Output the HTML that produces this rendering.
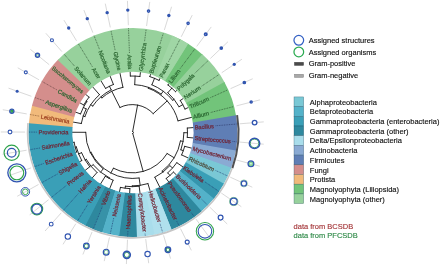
<!DOCTYPE html>
<html lang="en"><head><meta charset="utf-8"><title>Taxonomic coverage</title>
<style>
html,body{margin:0;padding:0;background:#fff}
body{width:440px;height:265px;overflow:hidden}
svg{display:block}
</style></head><body>
<svg width="440" height="265" viewBox="0 0 440 265">
<rect width="440" height="265" fill="#fff"/>
<path id="tree" fill="none" stroke="#141414" stroke-width="0.9" stroke-linejoin="round" stroke-linecap="round" d="M79.37 102.54L83.72 104.99M85.19 93.99L89.07 97.15M83.72 104.99A56 56 0 0 1 89.07 97.15M75.07 111.95L80.53 113.9M86.23 100.96L86.89 101.41M80.53 113.9A55.2 55.2 0 0 1 86.89 101.41M72.42 121.95L81.28 123.51M83.31 107.45L86.16 108.9M81.28 123.51A52 52 0 0 1 86.16 108.9M83.18 116.02L84.89 116.59M92.38 86.55L99.49 94.68M84.89 116.59A50.2 50.2 0 0 1 99.49 94.68M100.73 80.43L105.57 88.37M109.98 75.81L113.42 84.45M105.57 88.37A51.7 51.7 0 0 1 113.42 84.45M90.72 104.66L92.8 106.05M109.41 86.24L111.2 89.82M92.8 106.05A47.7 47.7 0 0 1 111.2 89.82M100.94 96.73L101.93 97.86M119.89 72.82L122.95 87.3M101.93 97.86A46.2 46.2 0 0 1 122.95 87.3M130.16 71.55L130.33 76.04M140.49 72.03L139.9 76.49M130.33 76.04A56.5 56.5 0 0 1 139.9 76.49M150.6 74.25L149.85 76.63M160.18 78.14L159.05 80.37M149.85 76.63A58.5 58.5 0 0 1 159.05 80.37M168.97 83.6L167.95 84.96M176.71 90.47L175.48 91.64M167.95 84.96A59.3 59.3 0 0 1 175.48 91.64M183.18 98.54L180.27 100.49M188.19 107.6L184.99 109.03M180.27 100.49A57.5 57.5 0 0 1 184.99 109.03M171.86 88.14L167.81 92.71M182.81 104.66L179.05 106.74M167.81 92.71A53.2 53.2 0 0 1 179.05 106.74M154.53 78.31L151.89 84.79M174.03 99.25L172.7 100.31M151.89 84.79A51.5 51.5 0 0 1 172.7 100.31M135.12 76.06L134.73 84.65M163.29 91.22L161.14 94.1M134.73 84.65A47.9 47.9 0 0 1 161.14 94.1M148.64 87.4L148.34 88.25M191.59 117.37L178.03 120.84M148.34 88.25A47 47 0 0 1 178.03 120.84M111.76 91.22L119.93 107.48M167.24 100.85L153.2 113.64M119.93 107.48A28 28 0 0 1 153.2 113.64M193.3 127.57L187.32 128.06M193.26 137.92L187.28 137.38M187.32 128.06A55 55 0 0 1 187.28 137.38M191.47 148.11L184.7 146.32M187.98 157.85L181.62 154.94M184.7 146.32A54 54 0 0 1 181.62 154.94M187.5 132.72L183.9 132.71M183.34 150.69L180.89 149.82M183.9 132.71A51.4 51.4 0 0 1 180.89 149.82M176.37 174.88L173.49 172.11M168.58 181.69L166.21 178.46M173.49 172.11A57 57 0 0 1 166.21 178.46M182.9 166.86L176.79 162.69M169.99 175.44L167.75 172.88M176.79 162.69A53.6 53.6 0 0 1 167.75 172.88M172.59 168.07L169.9 165.68M159.74 187.08L154.83 177.24M169.9 165.68A50 50 0 0 1 154.83 177.24M183.13 141.39L180.47 140.92M162.92 172.18L162.13 171.15M180.47 140.92A48.7 48.7 0 0 1 162.13 171.15M129.67 193.43L129.89 188.64M119.41 192.08L120.44 187.39M129.89 188.64A56.2 56.2 0 0 1 120.44 187.39M140.01 193.04L139.17 186.29M125.14 188.22L125.4 186.23M139.17 186.29A54.2 54.2 0 0 1 125.4 186.23M150.13 190.9L147.93 183.62M132.28 186.7L132.29 185.9M147.93 183.62A53.4 53.4 0 0 1 132.29 185.9M109.53 189.01L113.11 180.21M100.31 184.31L105.32 176.25M113.11 180.21A51.5 51.5 0 0 1 105.32 176.25M74.9 152.59L76.6 152M72.34 142.57L74.11 142.27M76.6 152A59.2 59.2 0 0 1 74.11 142.27M79.13 162.04L81.75 160.58M75.15 147.19L76.31 146.89M81.75 160.58A58 58 0 0 1 76.31 146.89M84.89 170.63L89.73 166.76M78.6 153.91L81.57 152.73M89.73 166.76A54.8 54.8 0 0 1 81.57 152.73M92.02 178.13L96.99 172.52M85.13 160.05L86.25 159.39M96.99 172.52A53.5 53.5 0 0 1 86.25 159.39M109.13 178.39L109.4 177.86M91.1 166.38L93.11 164.74M109.4 177.86A50.9 50.9 0 0 1 93.11 164.74M100.57 172.14L103.15 168.95M71.5 132.26L85.7 132.31M103.15 168.95A46.8 46.8 0 0 1 85.7 132.31M140.19 185.34L139.13 178.02M90.25 152.62L90.97 152.28M139.13 178.02A46 46 0 0 1 90.97 152.28M174.14 157.76L167.13 153.51M110.81 173.07L113.41 168.22M167.13 153.51A40.5 40.5 0 0 1 113.41 168.22M137.6 104.97L132.68 131.52M143.2 171.56L132.76 133.46M132.68 131.52A1 1 0 0 1 132.76 133.46"/>
<g id="ring" stroke="none" transform="translate(0.45 0)">
<path d="M28.34 124.13A104.5 104.5 0 0 1 31.72 104.88L73.96 116.46A60.7 60.7 0 0 0 72 127.64Z" fill="#F1BA7B"/>
<path d="M31.48 105.76A104.5 104.5 0 0 1 57.98 59.24L89.22 89.94A60.7 60.7 0 0 0 73.82 116.97Z" fill="#D48E8C"/>
<path d="M57.35 59.89A104.5 104.5 0 0 1 188.42 44.22L164.98 81.22A60.7 60.7 0 0 0 88.85 90.32Z" fill="#97D19C"/>
<path d="M187.65 43.74A104.5 104.5 0 0 1 202.53 54.94L173.18 87.45A60.7 60.7 0 0 0 164.53 80.94Z" fill="#72C47A"/>
<path d="M201.85 54.33A104.5 104.5 0 0 1 224.37 82.7L185.86 103.57A60.7 60.7 0 0 0 172.79 87.1Z" fill="#97D19C"/>
<path d="M223.93 81.9A104.5 104.5 0 0 1 235.71 116.15L192.45 123A60.7 60.7 0 0 0 185.61 103.11Z" fill="#72C47A"/>
<path d="M235.57 115.25A104.5 104.5 0 0 1 235.26 151.47L192.19 143.52A60.7 60.7 0 0 0 192.37 122.48Z" fill="#5F7EB5"/>
<path d="M235.43 150.57A104.5 104.5 0 0 1 230.58 168.57L189.47 153.45A60.7 60.7 0 0 0 192.29 143Z" fill="#8AAAD3"/>
<path d="M230.89 167.71A104.5 104.5 0 0 1 223.07 184.62L185.11 162.78A60.7 60.7 0 0 0 189.65 152.95Z" fill="#7AC8D5"/>
<path d="M223.52 183.83A104.5 104.5 0 0 1 212.96 199.18L179.24 171.23A60.7 60.7 0 0 0 185.37 162.32Z" fill="#3A9FB7"/>
<path d="M213.54 198.47A104.5 104.5 0 0 1 200.54 211.82L172.02 178.57A60.7 60.7 0 0 0 179.57 170.82Z" fill="#54B2C9"/>
<path d="M201.23 211.22A104.5 104.5 0 0 1 170.22 229.95L154.41 189.11A60.7 60.7 0 0 0 172.42 178.23Z" fill="#2E889E"/>
<path d="M171.07 229.62A104.5 104.5 0 0 1 135.6 236.95L134.3 193.17A60.7 60.7 0 0 0 154.91 188.91Z" fill="#A9DDEB"/>
<path d="M136.52 236.92A104.5 104.5 0 0 1 117.91 235.98L124.02 192.61A60.7 60.7 0 0 0 134.83 193.16Z" fill="#2E889E"/>
<path d="M118.81 236.1A104.5 104.5 0 0 1 100.63 232.02L113.99 190.31A60.7 60.7 0 0 0 124.55 192.68Z" fill="#54B2C9"/>
<path d="M101.5 232.3A104.5 104.5 0 0 1 84.27 225.2L104.48 186.35A60.7 60.7 0 0 0 114.49 190.47Z" fill="#2E889E"/>
<path d="M85.08 225.62A104.5 104.5 0 0 1 28.41 123.22L72.04 127.11A60.7 60.7 0 0 0 104.96 186.59Z" fill="#3A9FB7"/>
<path d="M171.85 35.69A104.5 104.5 0 0 1 187.65 43.74L164.53 80.94A60.7 60.7 0 0 0 155.36 76.27Z" fill="#A0D6A5"/>
<path d="M171.07 229.62A104.5 104.5 0 0 1 154.11 234.74L145.05 191.89A60.7 60.7 0 0 0 154.91 188.91Z" fill="#B0E0ED"/>
<path d="M101.5 232.3A104.5 104.5 0 0 1 92.33 228.97L109.17 188.54A60.7 60.7 0 0 0 114.49 190.47Z" fill="#3792A8"/>
<path d="M218.84 191.36A104.5 104.5 0 0 1 213.54 198.47L179.57 170.82A60.7 60.7 0 0 0 182.65 166.69Z" fill="#3595AD"/>
</g>
<g id="gram" transform="translate(0.45 0)">
<path d="M237.64 114.91A106.6 106.6 0 0 1 232.87 168.42L230.98 167.74A104.6 104.6 0 0 0 235.67 115.24Z" fill="#505052"/>
<path d="M232.49 168.28A106.2 106.2 0 0 1 26.72 123.07L28.31 123.21A104.6 104.6 0 0 0 230.98 167.74Z" fill="#c6c6c6"/>
</g>
<g id="ticks" stroke="#c9c9c9" stroke-width="0.7" fill="none">
<path d="M25.1 132.07L0.8 131.97"/>
<path d="M26.72 113.92L2.78 109.72"/>
<path d="M31.38 96.31L8.5 88.13"/>
<path d="M38.95 79.75L17.78 67.81"/>
<path d="M49.21 64.69L30.37 49.35"/>
<path d="M61.87 51.59L45.89 33.29"/>
<path d="M76.56 40.82L63.9 20.08"/>
<path d="M92.86 32.68L83.89 10.1"/>
<path d="M110.29 27.42L105.27 3.65"/>
<path d="M128.37 25.18L127.44 0.9"/>
<path d="M146.57 26.03L149.75 1.93"/>
<path d="M164.36 29.93L171.57 6.73"/>
<path d="M181.24 36.79L192.26 15.14"/>
<path d="M196.71 46.41L211.24 26.93"/>
<path d="M210.34 58.5L227.95 41.75"/>
<path d="M221.72 72.72L241.91 59.19"/>
<path d="M230.54 88.66L252.73 78.73"/>
<path d="M236.54 105.85L260.08 99.83"/>
<path d="M239.55 123.82L263.77 121.86"/>
<path d="M239.48 142.04L263.68 144.2"/>
<path d="M236.33 159.98L259.82 166.2"/>
<path d="M230.19 177.13L252.29 187.23"/>
<path d="M221.24 193L241.32 206.69"/>
<path d="M209.74 207.12L227.22 224.01"/>
<path d="M196.02 219.1L210.39 238.7"/>
<path d="M180.47 228.59L191.32 250.34"/>
<path d="M163.54 235.32L170.56 258.58"/>
<path d="M145.71 239.08L148.7 263.2"/>
<path d="M127.51 239.78L126.38 264.06"/>
<path d="M109.45 237.4L104.24 261.13"/>
<path d="M92.06 231.99L82.9 254.5"/>
<path d="M75.82 223.73L63 244.37"/>
<path d="M61.22 212.84L45.09 231.01"/>
<path d="M48.67 199.63L29.7 214.82"/>
<path d="M38.53 184.5L17.27 196.27"/>
<path d="M31.09 167.87L8.15 175.88"/>
<path d="M26.57 150.23L2.61 154.24"/>
</g>
<g id="bubbles" fill="none">
<circle cx="10" cy="132.01" r="1.9" fill="#fff"/>
<circle cx="10" cy="132.01" r="1.9" stroke="#3054b0" stroke-width="1.1"/>
<circle cx="11.85" cy="111.31" r="2.1" fill="#7fd08a"/>
<circle cx="11.85" cy="111.31" r="0.9" stroke="#2ea34a" stroke-width="1.15"/>
<circle cx="11.85" cy="111.31" r="2.1" stroke="#3054b0" stroke-width="1.22"/>
<circle cx="17.16" cy="91.23" r="1.5" fill="#3054b0"/>
<circle cx="25.8" cy="72.33" r="1.5" fill="#fff"/>
<circle cx="25.8" cy="72.33" r="1.5" stroke="#3054b0" stroke-width="1.1"/>
<circle cx="37.5" cy="55.16" r="2" fill="#fff"/>
<circle cx="37.5" cy="55.16" r="1" stroke="#2ea34a" stroke-width="0.57"/>
<circle cx="37.5" cy="55.16" r="2" stroke="#3054b0" stroke-width="1.46"/>
<circle cx="51.94" cy="40.22" r="1.5" fill="#fff"/>
<circle cx="51.94" cy="40.22" r="1.5" stroke="#3054b0" stroke-width="1.1"/>
<circle cx="68.69" cy="27.93" r="1.7" fill="#3054b0"/>
<circle cx="87.28" cy="18.65" r="1.7" fill="#3054b0"/>
<circle cx="107.17" cy="12.65" r="1.7" fill="#3054b0"/>
<circle cx="127.79" cy="10.09" r="1.7" fill="#3054b0"/>
<circle cx="148.55" cy="11.06" r="1.1" fill="#fff"/>
<circle cx="148.55" cy="11.06" r="1.1" stroke="#3054b0" stroke-width="1.46"/>
<circle cx="168.84" cy="15.51" r="1.7" fill="#3054b0"/>
<circle cx="188.09" cy="23.34" r="1.1" fill="#fff"/>
<circle cx="188.09" cy="23.34" r="1.1" stroke="#3054b0" stroke-width="1.46"/>
<circle cx="205.74" cy="34.3" r="1.2" fill="#fff"/>
<circle cx="205.74" cy="34.3" r="1.2" stroke="#3054b0" stroke-width="1.71"/>
<circle cx="221.28" cy="48.09" r="1" fill="#7fd08a"/>
<circle cx="221.28" cy="48.09" r="0.3" stroke="#2ea34a" stroke-width="0.57"/>
<circle cx="221.28" cy="48.09" r="1" stroke="#3054b0" stroke-width="1.71"/>
<circle cx="234.27" cy="64.31" r="1.6" fill="#3054b0"/>
<circle cx="244.33" cy="82.49" r="1" fill="#7fd08a"/>
<circle cx="244.33" cy="82.49" r="0.3" stroke="#2ea34a" stroke-width="0.57"/>
<circle cx="244.33" cy="82.49" r="1" stroke="#3054b0" stroke-width="1.71"/>
<circle cx="251.17" cy="102.11" r="1" fill="#fff"/>
<circle cx="251.17" cy="102.11" r="1" stroke="#3054b0" stroke-width="1.52"/>
<circle cx="254.6" cy="122.6" r="2.3" fill="#fff"/>
<circle cx="254.6" cy="122.6" r="2.3" stroke="#3054b0" stroke-width="1.34"/>
<circle cx="254.52" cy="143.38" r="4.3" stroke="#2ea34a" stroke-width="0.92"/>
<circle cx="254.52" cy="143.38" r="5.2" stroke="#3054b0" stroke-width="1.46"/>
<circle cx="250.92" cy="163.84" r="2.9" fill="#86d592"/>
<circle cx="250.92" cy="163.84" r="0.75" fill="#fff"/>
<circle cx="250.92" cy="163.84" r="2.9" stroke="#3054b0" stroke-width="1.22"/>
<circle cx="243.92" cy="183.41" r="2.6" fill="#fff"/>
<circle cx="243.92" cy="183.41" r="3.5" stroke="#2ea34a" stroke-width="0.46"/>
<circle cx="243.92" cy="183.41" r="2.6" stroke="#3054b0" stroke-width="1.22"/>
<circle cx="233.72" cy="201.5" r="4.1" stroke="#2ea34a" stroke-width="0.57"/>
<circle cx="233.72" cy="201.5" r="3.4" stroke="#3054b0" stroke-width="1.22"/>
<circle cx="220.6" cy="217.62" r="2.4" fill="#fff"/>
<circle cx="220.6" cy="217.62" r="2.4" stroke="#3054b0" stroke-width="1.22"/>
<circle cx="204.95" cy="231.28" r="8.7" stroke="#2ea34a" stroke-width="1.03"/>
<circle cx="204.95" cy="231.28" r="6.8" stroke="#3054b0" stroke-width="1.1"/>
<circle cx="187.21" cy="242.1" r="2" fill="#fff"/>
<circle cx="187.21" cy="242.1" r="2" stroke="#3054b0" stroke-width="1.1"/>
<circle cx="167.9" cy="249.77" r="2.7" fill="#fff"/>
<circle cx="167.9" cy="249.77" r="1.7" stroke="#2ea34a" stroke-width="1.03"/>
<circle cx="167.9" cy="249.77" r="2.7" stroke="#3054b0" stroke-width="1.46"/>
<circle cx="147.57" cy="254.07" r="2.7" fill="#fff"/>
<circle cx="147.57" cy="254.07" r="2.7" stroke="#3054b0" stroke-width="1.1"/>
<circle cx="126.81" cy="254.87" r="3.5" fill="#fff"/>
<circle cx="126.81" cy="254.87" r="2.5" stroke="#2ea34a" stroke-width="0.92"/>
<circle cx="126.81" cy="254.87" r="3.5" stroke="#3054b0" stroke-width="1.59"/>
<circle cx="106.21" cy="252.15" r="2.9" fill="#fff"/>
<circle cx="106.21" cy="252.15" r="2" stroke="#2ea34a" stroke-width="0.57"/>
<circle cx="106.21" cy="252.15" r="2.9" stroke="#3054b0" stroke-width="1.22"/>
<circle cx="86.37" cy="245.98" r="2.8" fill="#fff"/>
<circle cx="86.37" cy="245.98" r="2" stroke="#2ea34a" stroke-width="0.8"/>
<circle cx="86.37" cy="245.98" r="2.8" stroke="#3054b0" stroke-width="1.22"/>
<circle cx="67.85" cy="236.55" r="2.7" fill="#fff"/>
<circle cx="67.85" cy="236.55" r="2.7" stroke="#3054b0" stroke-width="1.1"/>
<circle cx="51.2" cy="224.13" r="1.9" fill="#fff"/>
<circle cx="51.2" cy="224.13" r="1.9" stroke="#3054b0" stroke-width="1.1"/>
<circle cx="36.88" cy="209.07" r="5.8" stroke="#2ea34a" stroke-width="1.15"/>
<circle cx="36.88" cy="209.07" r="5" stroke="#3054b0" stroke-width="1.22"/>
<circle cx="25.32" cy="191.81" r="2.8" stroke="#2ea34a" stroke-width="0.92"/>
<circle cx="25.32" cy="191.81" r="4.3" stroke="#3054b0" stroke-width="0.98"/>
<circle cx="16.83" cy="172.85" r="6.9" stroke="#2ea34a" stroke-width="1.15"/>
<circle cx="16.83" cy="172.85" r="9" stroke="#3054b0" stroke-width="1.34"/>
<circle cx="11.68" cy="152.72" r="7.6" stroke="#2ea34a" stroke-width="1.15"/>
<circle cx="11.68" cy="152.72" r="4.3" stroke="#3054b0" stroke-width="1.22"/>
</g>
<g id="labels" font-family="'Liberation Sans', sans-serif" font-size="5.85" stroke-width="0.2">
<text transform="translate(68.5 132.24) rotate(0.23)" text-anchor="end" dy="2.05" fill="#702030" stroke="#702030" textLength="29.93" lengthAdjust="spacingAndGlyphs">Providencia</text>
<path d="M36.77 132.12L28.3 132.08" stroke="#1d3a70" stroke-width="0.7" stroke-dasharray="0.9 0.8" fill="none"/>
<text transform="translate(69.44 121.43) rotate(9.96)" text-anchor="end" dy="2.05" fill="#9a3a1c" stroke="#9a3a1c" textLength="28.94" lengthAdjust="spacingAndGlyphs">Leishmania</text>
<path d="M39.15 116.11L29.87 114.48" stroke="#7a4a2a" stroke-width="0.7" stroke-dasharray="0.9 0.8" fill="none"/>
<text transform="translate(72.21 110.93) rotate(19.69)" text-anchor="end" dy="2.05" fill="#2a6530" stroke="#2a6530" textLength="28.16" lengthAdjust="spacingAndGlyphs">Aspergillus</text>
<path d="M44 100.83L34.39 97.39" stroke="#5a3a3a" stroke-width="0.7" stroke-dasharray="0.9 0.8" fill="none"/>
<text transform="translate(76.75 101.06) rotate(29.42)" text-anchor="end" dy="2.05" fill="#2a6530" stroke="#2a6530" textLength="21.11" lengthAdjust="spacingAndGlyphs">Candida</text>
<path d="M56.79 89.81L41.74 81.32" stroke="#5a3a3a" stroke-width="0.7" stroke-dasharray="0.9 0.8" fill="none"/>
<text transform="translate(82.9 92.12) rotate(39.15)" text-anchor="end" dy="2.05" fill="#2a6530" stroke="#2a6530" textLength="39.25" lengthAdjust="spacingAndGlyphs">Saccharomyces</text>
<text transform="translate(90.49 84.38) rotate(48.88)" text-anchor="end" dy="2.05" fill="#2a6530" stroke="#2a6530" textLength="22.57" lengthAdjust="spacingAndGlyphs">Solanum</text>
<path d="M74.46 66.02L63.97 54" stroke="#25452a" stroke-width="0.7" stroke-dasharray="0.9 0.8" fill="none"/>
<text transform="translate(99.28 78.05) rotate(58.61)" text-anchor="end" dy="2.05" fill="#2a6530" stroke="#2a6530" textLength="11.52" lengthAdjust="spacingAndGlyphs">Acer</text>
<path d="M92.34 66.69L78.22 43.55" stroke="#25452a" stroke-width="0.7" stroke-dasharray="0.9 0.8" fill="none"/>
<text transform="translate(109 73.33) rotate(68.34)" text-anchor="end" dy="2.05" fill="#2a6530" stroke="#2a6530" textLength="24.24" lengthAdjust="spacingAndGlyphs">Nicotiana</text>
<path d="M99.39 49.13L94.04 35.66" stroke="#25452a" stroke-width="0.7" stroke-dasharray="0.9 0.8" fill="none"/>
<text transform="translate(119.36 70.34) rotate(78.07)" text-anchor="end" dy="2.05" fill="#2a6530" stroke="#2a6530" textLength="18.86" lengthAdjust="spacingAndGlyphs">Glycine</text>
<path d="M115.09 50.13L110.96 30.55" stroke="#25452a" stroke-width="0.7" stroke-dasharray="0.9 0.8" fill="none"/>
<text transform="translate(130.06 69.16) rotate(87.8)" text-anchor="end" dy="2.05" fill="#2a6530" stroke="#2a6530" textLength="14.48" lengthAdjust="spacingAndGlyphs">Aralia</text>
<path d="M129.44 52.9L128.5 28.38" stroke="#25452a" stroke-width="0.7" stroke-dasharray="0.9 0.8" fill="none"/>
<text transform="translate(140.64 70.93) rotate(277.53)" dy="2.05" fill="#2a6530" stroke="#2a6530" textLength="28.21" lengthAdjust="spacingAndGlyphs">Glycyrrhiza</text>
<path d="M144.57 41.17L146.15 29.2" stroke="#25452a" stroke-width="0.7" stroke-dasharray="0.9 0.8" fill="none"/>
<text transform="translate(150.96 73.07) rotate(287.26)" dy="2.05" fill="#2a6530" stroke="#2a6530" textLength="28.44" lengthAdjust="spacingAndGlyphs">Bupleurum</text>
<path d="M159.93 44.19L163.41 32.99" stroke="#25452a" stroke-width="0.7" stroke-dasharray="0.9 0.8" fill="none"/>
<text transform="translate(160.79 76.95) rotate(296.99)" dy="2.05" fill="#2a6530" stroke="#2a6530" textLength="15.34" lengthAdjust="spacingAndGlyphs">Panax</text>
<path d="M168.56 61.68L179.78 39.65" stroke="#25452a" stroke-width="0.7" stroke-dasharray="0.9 0.8" fill="none"/>
<text transform="translate(169.82 82.46) rotate(306.72)" dy="2.05" fill="#2a6530" stroke="#2a6530" textLength="15.62" lengthAdjust="spacingAndGlyphs">Lilium</text>
<path d="M180.23 68.5L194.8 48.97" stroke="#25452a" stroke-width="0.7" stroke-dasharray="0.9 0.8" fill="none"/>
<text transform="translate(177.78 89.45) rotate(316.45)" dy="2.05" fill="#2a6530" stroke="#2a6530" textLength="21.64" lengthAdjust="spacingAndGlyphs">Polygala</text>
<path d="M194.76 73.3L208.02 60.7" stroke="#25452a" stroke-width="0.7" stroke-dasharray="0.9 0.8" fill="none"/>
<text transform="translate(184.43 97.71) rotate(326.18)" dy="2.05" fill="#2a6530" stroke="#2a6530" textLength="18.94" lengthAdjust="spacingAndGlyphs">Nerium</text>
<path d="M201.66 86.16L219.06 74.5" stroke="#25452a" stroke-width="0.7" stroke-dasharray="0.9 0.8" fill="none"/>
<text transform="translate(189.56 106.98) rotate(335.91)" dy="2.05" fill="#2a6530" stroke="#2a6530" textLength="21.08" lengthAdjust="spacingAndGlyphs">Triticum</text>
<path d="M210.45 97.64L227.62 89.96" stroke="#25452a" stroke-width="0.7" stroke-dasharray="0.9 0.8" fill="none"/>
<text transform="translate(193.03 117) rotate(345.64)" dy="2.05" fill="#2a6530" stroke="#2a6530" textLength="16.49" lengthAdjust="spacingAndGlyphs">Allium</text>
<path d="M210.75 112.46L233.44 106.65" stroke="#25452a" stroke-width="0.7" stroke-dasharray="0.9 0.8" fill="none"/>
<text transform="translate(194.73 127.46) rotate(355.37)" dy="2.05" fill="#702030" stroke="#702030" textLength="19.06" lengthAdjust="spacingAndGlyphs">Bacillus</text>
<path d="M215.52 125.77L236.36 124.08" stroke="#2a3566" stroke-width="0.7" stroke-dasharray="0.9 0.8" fill="none"/>
<text transform="translate(194.61 138.04) rotate(5.09)" dy="2.05" fill="#702030" stroke="#702030" textLength="36.24" lengthAdjust="spacingAndGlyphs">Streptococcus</text>
<path d="M232.5 141.42L236.29 141.75" stroke="#2a3566" stroke-width="0.7" stroke-dasharray="0.9 0.8" fill="none"/>
<text transform="translate(192.68 148.43) rotate(14.82)" dy="2.05" fill="#702030" stroke="#702030" textLength="39.95" lengthAdjust="spacingAndGlyphs">Mycobacterium</text>
<text transform="translate(189.02 158.32) rotate(24.55)" dy="2.05" fill="#4c4836" stroke="#4c4836" textLength="27.4" lengthAdjust="spacingAndGlyphs">Rhizobium</text>
<path d="M215.58 170.46L227.28 175.8" stroke="#1d3a70" stroke-width="0.7" stroke-dasharray="0.9 0.8" fill="none"/>
<text transform="translate(183.73 167.42) rotate(34.28)" dy="2.05" fill="#702030" stroke="#702030" textLength="23.99" lengthAdjust="spacingAndGlyphs">Klebsiella</text>
<path d="M205.04 181.95L218.6 191.2" stroke="#1d3a70" stroke-width="0.7" stroke-dasharray="0.9 0.8" fill="none"/>
<text transform="translate(176.98 175.47) rotate(44.01)" dy="2.05" fill="#702030" stroke="#702030" textLength="32.56" lengthAdjust="spacingAndGlyphs">Burkholderia</text>
<path d="M201.69 199.35L207.44 204.9" stroke="#1d3a70" stroke-width="0.7" stroke-dasharray="0.9 0.8" fill="none"/>
<text transform="translate(168.98 182.25) rotate(53.74)" dy="2.05" fill="#702030" stroke="#702030" textLength="36.04" lengthAdjust="spacingAndGlyphs">Pseudomonas</text>
<path d="M191.36 212.76L194.12 216.52" stroke="#1d3a70" stroke-width="0.7" stroke-dasharray="0.9 0.8" fill="none"/>
<text transform="translate(159.98 187.55) rotate(63.47)" dy="2.05" fill="#702030" stroke="#702030" textLength="35.92" lengthAdjust="spacingAndGlyphs">Acinetobacter</text>
<path d="M176.82 221.3L179.04 225.73" stroke="#1d3a70" stroke-width="0.7" stroke-dasharray="0.9 0.8" fill="none"/>
<text transform="translate(150.23 191.25) rotate(73.2)" dy="2.05" fill="#702030" stroke="#702030" textLength="32.2" lengthAdjust="spacingAndGlyphs">Helicobacter</text>
<path d="M160.06 223.79L162.61 232.25" stroke="#1d3a70" stroke-width="0.7" stroke-dasharray="0.9 0.8" fill="none"/>
<text transform="translate(140.03 193.24) rotate(82.93)" dy="2.05" fill="#702030" stroke="#702030" textLength="38.91" lengthAdjust="spacingAndGlyphs">Campylobacter</text>
<path d="M145.04 233.65L145.32 235.91" stroke="#1d3a70" stroke-width="0.7" stroke-dasharray="0.9 0.8" fill="none"/>
<text transform="translate(129.58 195.32) rotate(-87.34)" text-anchor="end" dy="2.05" fill="#702030" stroke="#702030" textLength="33.91" lengthAdjust="spacingAndGlyphs">Haemophilus</text>
<path d="M127.92 231L127.66 236.59" stroke="#1d3a70" stroke-width="0.7" stroke-dasharray="0.9 0.8" fill="none"/>
<text transform="translate(118.97 194.08) rotate(-77.61)" text-anchor="end" dy="2.05" fill="#702030" stroke="#702030" textLength="22.75" lengthAdjust="spacingAndGlyphs">Neisseria</text>
<path d="M113.7 218.06L110.14 234.27" stroke="#1d3a70" stroke-width="0.7" stroke-dasharray="0.9 0.8" fill="none"/>
<text transform="translate(108.7 191.05) rotate(-67.88)" text-anchor="end" dy="2.05" fill="#702030" stroke="#702030" textLength="15.07" lengthAdjust="spacingAndGlyphs">Vibrio</text>
<path d="M102.34 206.69L93.26 229.03" stroke="#1d3a70" stroke-width="0.7" stroke-dasharray="0.9 0.8" fill="none"/>
<text transform="translate(99.06 186.32) rotate(-58.15)" text-anchor="end" dy="2.05" fill="#702030" stroke="#702030" textLength="19.95" lengthAdjust="spacingAndGlyphs">Yersinia</text>
<path d="M87.59 204.79L77.51 221.01" stroke="#1d3a70" stroke-width="0.7" stroke-dasharray="0.9 0.8" fill="none"/>
<text transform="translate(90.35 180.01) rotate(-48.42)" text-anchor="end" dy="2.05" fill="#702030" stroke="#702030" textLength="16.45" lengthAdjust="spacingAndGlyphs">Hafnia</text>
<path d="M78.24 193.66L63.34 210.44" stroke="#1d3a70" stroke-width="0.7" stroke-dasharray="0.9 0.8" fill="none"/>
<text transform="translate(82.82 172.28) rotate(-38.69)" text-anchor="end" dy="2.05" fill="#702030" stroke="#702030" textLength="19.44" lengthAdjust="spacingAndGlyphs">Proteus</text>
<path d="M66.24 185.56L51.17 197.63" stroke="#1d3a70" stroke-width="0.7" stroke-dasharray="0.9 0.8" fill="none"/>
<text transform="translate(76.71 163.37) rotate(-28.96)" text-anchor="end" dy="2.05" fill="#702030" stroke="#702030" textLength="20.11" lengthAdjust="spacingAndGlyphs">Shigella</text>
<path d="M57.54 173.98L41.33 182.95" stroke="#1d3a70" stroke-width="0.7" stroke-dasharray="0.9 0.8" fill="none"/>
<text transform="translate(72.2 153.53) rotate(-19.23)" text-anchor="end" dy="2.05" fill="#702030" stroke="#702030" textLength="28.5" lengthAdjust="spacingAndGlyphs">Escherichia</text>
<path d="M43.59 163.51L34.11 166.82" stroke="#1d3a70" stroke-width="0.7" stroke-dasharray="0.9 0.8" fill="none"/>
<text transform="translate(69.43 143.05) rotate(-9.5)" text-anchor="end" dy="2.05" fill="#702030" stroke="#702030" textLength="28.08" lengthAdjust="spacingAndGlyphs">Salmonella</text>
<path d="M39.96 147.99L29.73 149.7" stroke="#1d3a70" stroke-width="0.7" stroke-dasharray="0.9 0.8" fill="none"/>
</g>
<g id="legend" font-family="'Liberation Sans', sans-serif" font-size="7.5" fill="#111" stroke="#111" stroke-width="0.14">
<circle cx="298.8" cy="40.3" r="4.85" fill="none" stroke="#3360c4" stroke-width="1.25"/>
<circle cx="298.8" cy="51.9" r="4.85" fill="none" stroke="#2cab52" stroke-width="1.25"/>
<rect x="294.3" y="62.2" width="9.4" height="3.4" fill="#4a4a4a"/>
<rect x="294.3" y="74.2" width="9.4" height="3.4" fill="#a8a8a8"/>
<text x="308.7" y="42.9">Assigned structures</text>
<text x="308.7" y="54.6">Assigned organisms</text>
<text x="308.7" y="66.3">Gram-positive</text>
<text x="308.7" y="78.0">Gram-negative</text>
<rect x="294" y="96.9" width="9.7" height="9.7" fill="#7AC8D5" stroke="rgba(20,60,80,0.55)" stroke-width="0.5"/>
<text x="309.8" y="104.65">Alphaproteobacteria</text>
<rect x="294" y="106.6" width="9.7" height="9.7" fill="#54B2C9" stroke="rgba(20,60,80,0.55)" stroke-width="0.5"/>
<text x="309.8" y="114.35">Betaproteobacteria</text>
<rect x="294" y="116.3" width="9.7" height="9.7" fill="#3A9FB7" stroke="rgba(20,60,80,0.55)" stroke-width="0.5"/>
<text x="309.8" y="124.05">Gammaproteobacteria (enterobacteria)</text>
<rect x="294" y="126" width="9.7" height="9.7" fill="#2E889E" stroke="rgba(20,60,80,0.55)" stroke-width="0.5"/>
<text x="309.8" y="133.75">Gammaproteobacteria (other)</text>
<rect x="294" y="135.7" width="9.7" height="9.7" fill="#A9DDEB" stroke="rgba(20,60,80,0.55)" stroke-width="0.5"/>
<text x="309.8" y="143.45">Delta/Epsilonproteobacteria</text>
<rect x="294" y="145.4" width="9.7" height="9.7" fill="#8AAAD3" stroke="rgba(20,60,80,0.55)" stroke-width="0.5"/>
<text x="309.8" y="153.15">Actinobacteria</text>
<rect x="294" y="155.1" width="9.7" height="9.7" fill="#5F7EB5" stroke="rgba(20,60,80,0.55)" stroke-width="0.5"/>
<text x="309.8" y="162.85">Firmicutes</text>
<rect x="294" y="164.8" width="9.7" height="9.7" fill="#D48E8C" stroke="rgba(20,60,80,0.55)" stroke-width="0.5"/>
<text x="309.8" y="172.55">Fungi</text>
<rect x="294" y="174.5" width="9.7" height="9.7" fill="#F1BA7B" stroke="rgba(20,60,80,0.55)" stroke-width="0.5"/>
<text x="309.8" y="182.25">Protista</text>
<rect x="294" y="184.2" width="9.7" height="9.7" fill="#72C47A" stroke="rgba(20,60,80,0.55)" stroke-width="0.5"/>
<text x="309.8" y="191.95">Magnolyophyta (Liliopsida)</text>
<rect x="294" y="193.9" width="9.7" height="9.7" fill="#97D19C" stroke="rgba(20,60,80,0.55)" stroke-width="0.5"/>
<text x="309.8" y="201.65">Magnolyophyta (other)</text>
<text x="293.6" y="228.7" fill="#a5373a" stroke="#a5373a">data from BCSDB</text>
<text x="293.6" y="238.4" fill="#2f8a48" stroke="#2f8a48">data from PFCSDB</text>
</g>
</svg>
</body></html>
